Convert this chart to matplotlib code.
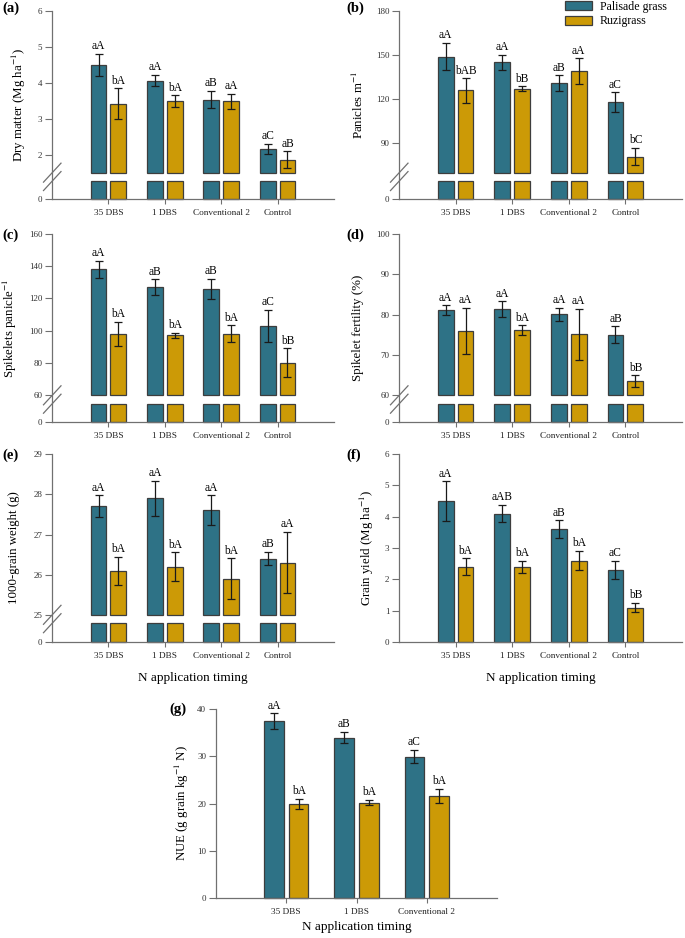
#!/usr/bin/env python3

import matplotlib
matplotlib.use('Agg')
import matplotlib.pyplot as plt
from matplotlib.lines import Line2D
from matplotlib.patches import Patch

import numpy as np

plt.rcParams['font.family'] = 'serif'
plt.rcParams['font.serif'] = ['Liberation Serif', 'DejaVu Serif']
plt.rcParams['mathtext.fontset'] = 'stix'

groups = ['35 DBS', '1 DBS', 'Conventional 2', 'Control']
species = ['Palisade grass', 'Ruzigrass']

# (a) dry matter, Mg/ha
dm_pal = [4.49, 4.06, 3.53, 2.16]
dm_pal_err = [0.31, 0.16, 0.24, 0.14]
dm_ruz = [3.42, 3.49, 3.49, 1.86]
dm_ruz_err = [0.43, 0.16, 0.21, 0.23]
dm_let_pal = ['aA', 'aA', 'aB', 'aC']
dm_let_ruz = ['bA', 'bA', 'aA', 'aB']

# (b) panicles per m
pan_pal = [149, 145, 131, 118]
pan_pal_err = [9.2, 5.2, 5.3, 6.7]
pan_ruz = [126, 127, 139, 81]
pan_ruz_err = [8.3, 1.7, 8.8, 5.7]
pan_let_pal = ['aA', 'aA', 'aB', 'aC']
pan_let_ruz = ['bAB', 'bB', 'aA', 'bC']

# (c) spikelets per panicle
spk_pal = [138, 127, 126, 103]
spk_pal_err = [5.2, 4.9, 6.2, 10.1]
spk_ruz = [98, 97, 98, 80]
spk_ruz_err = [7.4, 1.7, 5.3, 9.0]
spk_let_pal = ['aA', 'aB', 'aB', 'aC']
spk_let_ruz = ['bA', 'bA', 'bA', 'bB']

# (d) spikelet fertility, %
fert_pal = [81.1, 81.3, 80.0, 75.0]
fert_pal_err = [1.2, 2.0, 1.7, 2.1]
fert_ruz = [75.9, 76.1, 75.1, 63.5]
fert_ruz_err = [5.7, 1.2, 6.3, 1.4]
fert_let_pal = ['aA', 'aA', 'aA', 'aB']
fert_let_ruz = ['aA', 'bA', 'aA', 'bB']

# (e) 1000-grain weight, g
gw_pal = [27.7, 27.9, 27.6, 26.4]
gw_pal_err = [0.27, 0.44, 0.37, 0.17]
gw_ruz = [26.1, 26.2, 25.9, 26.3]
gw_ruz_err = [0.35, 0.36, 0.51, 0.76]
gw_let_pal = ['aA', 'aA', 'aA', 'aB']
gw_let_ruz = ['bA', 'bA', 'bA', 'aA']

# (f) grain yield, Mg/ha
gy_pal = [4.5, 4.1, 3.6, 2.3]
gy_pal_err = [0.63, 0.28, 0.28, 0.29]
gy_ruz = [2.4, 2.4, 2.6, 1.1]
gy_ruz_err = [0.27, 0.19, 0.30, 0.15]
gy_let_pal = ['aA', 'aAB', 'aB', 'aC']
gy_let_ruz = ['bA', 'bA', 'bA', 'bB']

# (g) NUE, no control
nue_pal = [37.4, 33.9, 29.9]
nue_pal_err = [1.65, 1.2, 1.4]
nue_ruz = [19.9, 20.2, 21.6]
nue_ruz_err = [1.05, 0.55, 1.45]
nue_let_pal = ['aA', 'aB', 'aC']
nue_let_ruz = ['bA', 'bA', 'bA']

TEAL = '#2e7286'
GOLD = '#cc9a06'
EDGE = '#3d3d3d'
SPINE = '#707070'
W, H = 685, 938
BW, OFF = 0.28, 0.175


def rect(left, top, right, bottom):
    return [left / W, 1 - bottom / H, (right - left) / W, (bottom - top) / H]


def fig_line(fig, x0, y0, x1, y1):
    fig.add_artist(Line2D([x0 / W, x1 / W], [1 - y0 / H, 1 - y1 / H],
                          transform=fig.transFigure, color=SPINE, lw=0.9))


def bars(ax, x, pal, ruz, base=0, cap=None):
    for dx, vals, col in [(-OFF, pal, TEAL), (OFF, ruz, GOLD)]:
        v = np.asarray(vals, float)
        if cap is not None:
            v = np.minimum(v, cap)
        ax.bar(x + dx, v - base, bottom=base, width=BW, color=col,
               edgecolor=EDGE, lw=0.9, clip_on=False, zorder=2)


def errs(ax, x, pal, pal_err, ruz, ruz_err, let_pal, let_ruz):
    for dx, v, e, lets in [(-OFF, pal, pal_err, let_pal), (OFF, ruz, ruz_err, let_ruz)]:
        ax.errorbar(x + dx, v, yerr=e, fmt='none', ecolor='#1a1a1a',
                    elinewidth=0.9, capsize=2.6, capthick=0.9, zorder=3)
        for xi, vi, ei, t in zip(x + dx, v, e, lets):
            ax.annotate(t, (xi, vi + ei), xytext=(0, 1.2), textcoords='offset points',
                        ha='center', va='bottom', fontsize=8.3)


def yticks_style(ax):
    ax.tick_params(axis='y', length=5, width=0.8, color=SPINE, labelsize=6.5,
                   pad=2, labelcolor='#333333')


def xticks_style(ax, x, labels):
    ax.set_xticks(x, labels)
    ax.tick_params(axis='x', length=3.5, width=0.8, color=SPINE, labelsize=6.7,
                   pad=3.5, labelcolor='#222222')


def panel(fig, xs, ys, ylim, yticks, data, ylabel, ylab_x, tag, tag_xy):
    x0, x1 = xs
    pal, pal_err, ruz, ruz_err, let_pal, let_ruz = data
    x = np.arange(1, len(pal) + 1)
    lo, hi = ylim

    if len(ys) == 4:
        top, brk_top, brk_bot, bottom = ys
        bg = fig.add_axes(rect(x0, top, x1, bottom))
        bg.patch.set_visible(False)
        for s in ['top', 'right', 'bottom']:
            bg.spines[s].set_visible(False)
        bg.spines['left'].set_color(SPINE)
        bg.spines['left'].set_linewidth(0.9)
        bg.set_xticks([])
        bg.set_yticks([])

        up = fig.add_axes(rect(x0, top, x1, brk_top))
        up.patch.set_visible(False)
        for s in up.spines.values():
            s.set_visible(False)
        up.set_xlim(0, len(pal) + 1)
        up.set_ylim(lo, hi)
        up.set_yticks(yticks)
        up.set_xticks([])
        yticks_style(up)
        bars(up, x, pal, ruz, base=lo)
        errs(up, x, pal, pal_err, ruz, ruz_err, let_pal, let_ruz)

        low = fig.add_axes(rect(x0, brk_bot, x1, bottom))
        low.patch.set_visible(False)
        for s in ['top', 'right', 'left']:
            low.spines[s].set_visible(False)
        low.spines['bottom'].set_color(SPINE)
        low.spines['bottom'].set_linewidth(0.9)
        low.set_xlim(0, len(pal) + 1)
        low.set_ylim(0, lo)
        low.set_yticks([0])
        yticks_style(low)
        bars(low, x, pal, ruz, cap=lo)
        xticks_style(low, x, groups[:len(pal)])

        # break marks on the y axis
        gy = (brk_top + brk_bot) / 2
        for dy in (-4.2, 4.2):
            fig_line(fig, x0 - 8.5, gy + dy + 9.5, x0 + 9, gy + dy - 9.5)
    else:
        top, bottom = ys
        ax = fig.add_axes(rect(x0, top, x1, bottom))
        ax.patch.set_visible(False)
        for s in ['top', 'right']:
            ax.spines[s].set_visible(False)
        for s in ['left', 'bottom']:
            ax.spines[s].set_color(SPINE)
            ax.spines[s].set_linewidth(0.9)
        ax.set_xlim(0, len(pal) + 1)
        ax.set_ylim(lo, hi)
        ax.set_yticks(yticks)
        yticks_style(ax)
        bars(ax, x, pal, ruz)
        errs(ax, x, pal, pal_err, ruz, ruz_err, let_pal, let_ruz)
        xticks_style(ax, x, groups[:len(pal)])

    fig.text(ylab_x / W, 1 - (ys[0] + ys[-1]) / 2 / H, ylabel, rotation=90,
             ha='center', va='center', fontsize=9.3)
    fig.text(tag_xy[0] / W, 1 - tag_xy[1] / H, tag, fontweight='bold',
             ha='left', va='center', fontsize=10.5)


def main():
    fig = plt.figure(figsize=(W / 100, H / 100), dpi=100)

    left, right = (52, 334), (399, 682)
    row1 = (11, 172.7, 181, 199)
    row2 = (234, 395, 404, 422)
    row3 = (454, 615, 623, 642)

    panel(fig, left, row1, (1.5, 6), [2, 3, 4, 5, 6],
          (dm_pal, dm_pal_err, dm_ruz, dm_ruz_err, dm_let_pal, dm_let_ruz),
          'Dry matter (Mg ha$^{-1}$)', 19, '(a)', (2, 8))
    panel(fig, right, row1, (70, 180), [90, 120, 150, 180],
          (pan_pal, pan_pal_err, pan_ruz, pan_ruz_err, pan_let_pal, pan_let_ruz),
          'Panicles m$^{-1}$', 358, '(b)', (346, 8))
    panel(fig, left, row2, (60, 160), [60, 80, 100, 120, 140, 160],
          (spk_pal, spk_pal_err, spk_ruz, spk_ruz_err, spk_let_pal, spk_let_ruz),
          'Spikelets panicle$^{-1}$', 10, '(c)', (2, 235))
    panel(fig, right, row2, (60, 100), [60, 70, 80, 90, 100],
          (fert_pal, fert_pal_err, fert_ruz, fert_ruz_err, fert_let_pal, fert_let_ruz),
          'Spikelet fertility (%)', 358, '(d)', (346, 235))
    panel(fig, left, row3, (25, 29), [25, 26, 27, 28, 29],
          (gw_pal, gw_pal_err, gw_ruz, gw_ruz_err, gw_let_pal, gw_let_ruz),
          '1000-grain weight (g)', 14, '(e)', (2, 455))
    panel(fig, right, (454, 642), (0, 6), [0, 1, 2, 3, 4, 5, 6],
          (gy_pal, gy_pal_err, gy_ruz, gy_ruz_err, gy_let_pal, gy_let_ruz),
          'Grain yield (Mg ha$^{-1}$)', 367, '(f)', (346, 455))
    panel(fig, (216, 497), (709, 898), (0, 40), [0, 10, 20, 30, 40],
          (nue_pal, nue_pal_err, nue_ruz, nue_ruz_err, nue_let_pal, nue_let_ruz),
          'NUE (g grain kg$^{-1}$ N)', 182, '(g)', (169, 709))

    for xs, y in [(left, 678), (right, 678), ((216, 497), 927)]:
        fig.text((xs[0] + xs[1]) / 2 / W, 1 - y / H, 'N application timing',
                 ha='center', va='center', fontsize=9.5)

    handles = [Patch(facecolor=TEAL, edgecolor=EDGE, lw=0.9),
               Patch(facecolor=GOLD, edgecolor=EDGE, lw=0.9)]
    fig.legend(handles, species, loc='upper left', bbox_to_anchor=(565 / W, 1 - 1 / H),
               frameon=False, fontsize=8.6, handlelength=2.3, handleheight=0.8,
               handletextpad=0.6, labelspacing=0.2, borderpad=0, borderaxespad=0)

    fig.savefig('out.png', dpi=100)


if __name__ == "__main__":
    main()
